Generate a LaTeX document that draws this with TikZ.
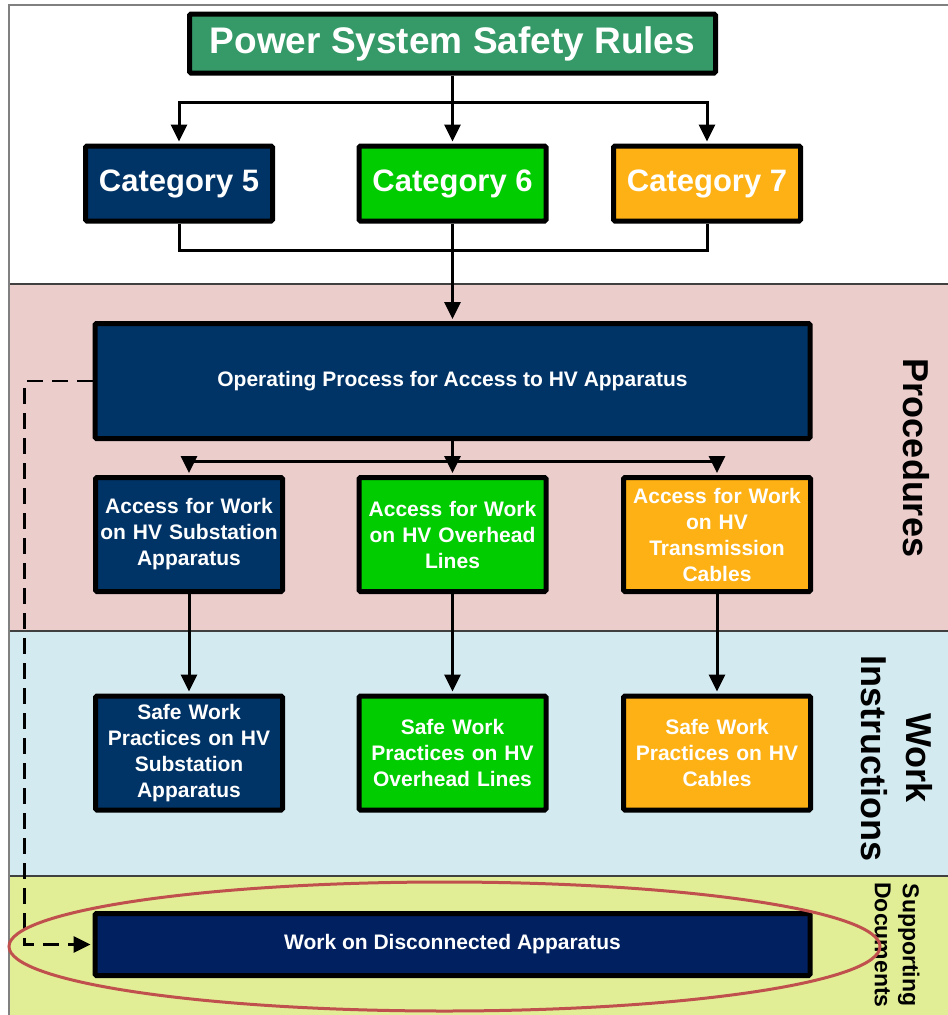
\documentclass[tikz,border=0pt]{standalone}
\usepackage{fontspec}
\setmainfont{Liberation Sans}
\usetikzlibrary{arrows.meta}
\definecolor{rulegreen}{RGB}{53,154,104}
\definecolor{catnavy}{RGB}{0,51,102}
\definecolor{catgreen}{RGB}{0,204,0}
\definecolor{catorange}{RGB}{253,177,20}
\definecolor{docnavy}{RGB}{0,32,96}
\definecolor{procpink}{RGB}{235,205,203}
\definecolor{workblue}{RGB}{211,235,240}
\definecolor{suppyellow}{RGB}{226,238,150}
\definecolor{ringred}{RGB}{192,80,77}
\tikzset{
  hvbox/.style    = {draw=black, line width=5pt, rounded corners=1.5pt, text=white,
                     align=center, inner sep=2pt,
                     font=\bfseries\fontsize{21}{26}\selectfont},
  rulebox/.style  = {hvbox, fill=rulegreen, minimum width=526pt, minimum height=59pt,
                     font=\bfseries\fontsize{37}{44}\selectfont},
  catbox/.style   = {hvbox, minimum width=187pt, minimum height=75pt,
                     font=\bfseries\fontsize{31}{36}\selectfont},
  widebox/.style  = {hvbox, minimum width=715pt},
  % column boxes: fixed text width, lines broken by hand
  colbox/.style   = {hvbox, text width=182pt, minimum width=187pt, minimum height=114pt},
  link/.style     = {draw=black, line width=3pt},
  arr/.style      = {link, shorten >=2pt, -{Triangle[length=17pt, width=16pt]}},
  dashlink/.style = {arr, line width=2.8pt, dash pattern=on 16pt off 9pt},
  bandlabel/.style = {rotate=-90, align=center, font=\bfseries\fontsize{36}{45}\selectfont},
}

\begin{document}
\begin{tikzpicture}[x=1pt, y=-1pt]
    \useasboundingbox (0,0) rectangle (948,1015);

    % bands
    \fill[procpink]   (9,284) rectangle (948,631);
    \fill[workblue]   (9,631) rectangle (948,876);
    \fill[suppyellow] (9,876) rectangle (948,1015);
    \draw[black!75, line width=1.5pt] (9,284) -- (948,284) (9,631) -- (948,631)
      (9,876) -- (948,876);
    \draw[black!50, line width=1.5pt] (948,5) -- (9,5) -- (9,1015);

    \node[rulebox] (rules) at (452.5,43.5) {Power System Safety Rules};

    \node[catbox, fill=catnavy]   (c5) at (179,183.5)   {Category 5};
    \node[catbox, fill=catgreen]  (c6) at (452.5,183.5) {Category 6};
    \node[catbox, fill=catorange] (c7) at (707,183.5)   {Category 7};

    \node[widebox, fill=catnavy, minimum height=115pt] (op) at (452.5,381)
      {Operating Process for Access to HV Apparatus};

    \node[colbox, fill=catnavy]   (a1) at (189,534.5)   {Access for Work\\on HV Substation\\Apparatus};
    \node[colbox, fill=catgreen]  (a2) at (452.5,534.5) {Access for Work\\on HV Overhead\\Lines};
    \node[colbox, fill=catorange] (a3) at (717,534.5)   {Access for Work\\on HV\\Transmission\\Cables};

    \node[colbox, fill=catnavy]   (s1) at (189,753)   {Safe Work\\Practices on HV\\Substation\\Apparatus};
    \node[colbox, fill=catgreen]  (s2) at (452.5,753) {Safe Work\\Practices on HV\\Overhead Lines};
    \node[colbox, fill=catorange] (s3) at (717,753)   {Safe Work\\Practices on HV\\Cables};

    \node[widebox, fill=docnavy, minimum height=62pt] (wda) at (452.5,944.5)
      {Work on Disconnected Apparatus};

    \node[bandlabel] (proc) at (916,458) {Procedures};
    \node[bandlabel] (work) at (897,758) {Work\\Instructions};
    \node[bandlabel, font=\bfseries\fontsize{23}{28}\selectfont] (supp) at (897,945)
      {Supporting\\Documents};

    \coordinate (rsplit) at (452.5,102);
    \draw[link] (rules.south) -- (rsplit);
    \draw[arr] (rsplit) -| (c5.north);
    \draw[arr] (rsplit) -- (c6.north);
    \draw[arr] (rsplit) -| (c7.north);

    \coordinate (cjoin) at (452.5,250);
    \draw[link] (c5.south) |- (cjoin);
    \draw[link] (c7.south) |- (cjoin);
    \draw[arr] (c6.south) -- (op.north);

    \coordinate (osplit) at (452.5,461);
    \draw[arr] (op.south) -- (a2.north);
    \draw[arr] (osplit) -| (a1.north);
    \draw[arr] (osplit) -| (a3.north);

    \draw[arr] (a1.south) -- (s1.north);
    \draw[arr] (a2.south) -- (s2.north);
    \draw[arr] (a3.south) -- (s3.north);

    \draw[dashlink] (op.west) -- ++(-68,0) |- (wda.west);

    \draw[ringred, line width=3pt] (444.5,946.5) ellipse [x radius=435.5pt, y radius=64.5pt];
  \end{tikzpicture}
\end{document}
